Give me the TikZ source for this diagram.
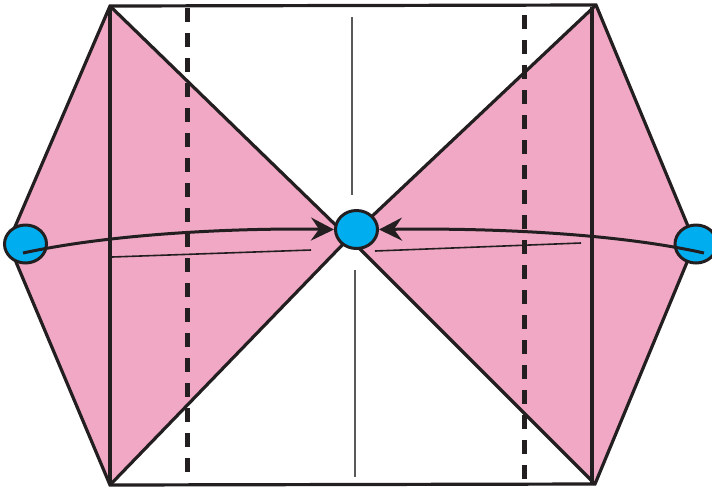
\documentclass[tikz,border=0pt]{standalone}
\usetikzlibrary{shapes.geometric,arrows.meta}
\definecolor{pinkf}{HTML}{F1A8C5}
\definecolor{bluef}{HTML}{00AEEF}
\definecolor{ink}{HTML}{231F20}
\begin{document}
\begin{tikzpicture}[x=0.5pt,y=-0.5pt,
  edge/.style={draw=ink,line width=1.6pt,line join=miter},
  dashline/.style={draw=ink,line width=2.5pt,dash pattern=on 7pt off 5.5pt},
  thinv/.style={draw=black!65,line width=0.8pt},
  thinh/.style={draw=ink,line width=0.8pt},
  dot/.style={ellipse,draw=ink,line width=1.5pt,fill=bluef,minimum width=21pt,minimum height=19pt,inner sep=0pt},
  arr/.style={draw=ink,line width=1.5pt,-{Stealth[length=11.5pt,width=11.5pt,inset=4pt]}}]
\useasboundingbox (0,0) rectangle (712,489);
% corners
\coordinate (TL) at (110,6);
\coordinate (TR) at (596,5);
\coordinate (BL) at (110,485);
\coordinate (BR) at (595,484);
\coordinate (L) at (8,243);
\coordinate (R) at (695,243);
\coordinate (C) at (349,238);
% pink areas
\fill[pinkf] (TL) -- (C) -- (BL) -- (L) -- cycle;
\fill[pinkf] (TR) -- (C) -- (BR) -- (R) -- cycle;
% outline
\draw[edge] (L) -- (TL) -- (TR) -- (R) -- (BR) -- (BL) -- cycle;
\draw[edge] (TL) -- (C) -- (BR);
\draw[edge] (TR) -- (C) -- (BL);
\coordinate (VLt) at (110,6); \coordinate (VLb) at (110,485);
\coordinate (VRt) at (592,7); \coordinate (VRb) at (592,484);
\draw[edge] (VLt) -- (VLb);
\draw[edge] (VRt) -- (VRb);
% dashed folds
\coordinate (DLt) at (187,8); \coordinate (DLb) at (187,476);
\coordinate (DRt) at (524,15); \coordinate (DRb) at (524,482);
\draw[dashline] (DLt) -- (DLb);
\draw[dashline] (DRt) -- (DRb);
% thin lines
\coordinate (MTt) at (352,17); \coordinate (MTb) at (352,195);
\coordinate (MBt) at (355,270); \coordinate (MBb) at (355,477);
\draw[thinv] (MTt) -- (MTb);
\draw[thinv] (MBt) -- (MBb);
\coordinate (HLa) at (112,257); \coordinate (HLb) at (311,250);
\coordinate (HRa) at (375,251); \coordinate (HRb) at (581,243);
\draw[thinh] (HLa) -- (HLb);
\draw[thinh] (HRa) -- (HRb);
% dots
\node[dot] (dl) at (25.5,244) {};
\node[dot] (dc) at (356.5,229.5) {};
\node[dot] (dr) at (696,244) {};
% arrows
\coordinate (al) at (23,253);
\coordinate (ar) at (704,253);
\draw[arr] (al) .. controls (120,232) and (250,228) .. (dc.west);
\draw[arr] (ar) .. controls (610,232) and (480,228) .. (dc.east);
\end{tikzpicture}
\end{document}
